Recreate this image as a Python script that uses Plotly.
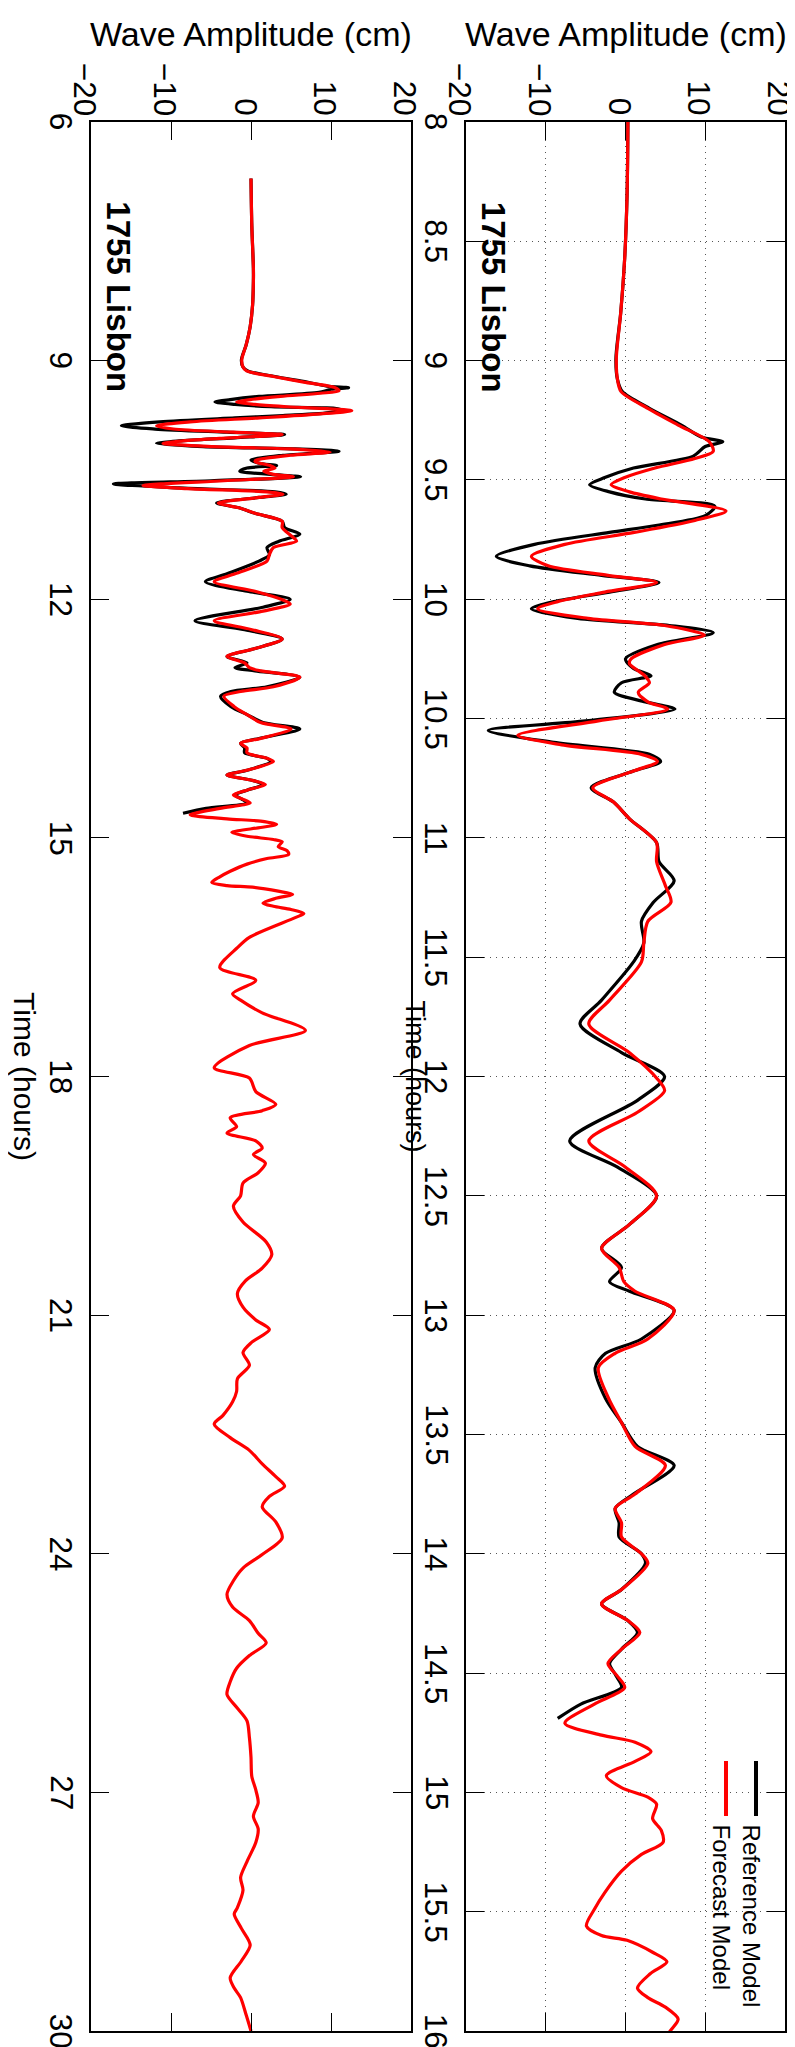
import plotly.graph_objects as go

# ---------------- data ----------------
# Forecast model (red): time (hours), amplitude (cm)
fc_time = [6.71, 7.3, 7.84, 8.0, 8.3, 8.57, 8.8, 8.99, 9.08, 9.13, 9.2, 9.27, 9.34, 9.38, 9.41, 9.45,
           9.49, 9.52, 9.55, 9.58, 9.63, 9.67, 9.72, 9.77, 9.82, 9.86, 9.90, 9.93, 9.97, 10.01, 10.04,
           10.08, 10.11, 10.15, 10.19, 10.25, 10.27, 10.32, 10.35, 10.39, 10.43, 10.46, 10.51, 10.57,
           10.61, 10.65, 10.68, 10.72, 10.79, 10.85, 10.92, 11.02, 11.1, 11.2, 11.27, 11.35, 11.44,
           11.52, 11.68, 11.78, 11.9, 12.01, 12.06, 12.15, 12.27, 12.38, 12.5, 12.62, 12.72, 12.8,
           12.86, 12.9, 12.98, 13.1, 13.16, 13.22, 13.35, 13.45, 13.55, 13.63, 13.75, 13.81, 13.87,
           13.93, 14.0, 14.04, 14.15, 14.21, 14.28, 14.33, 14.40, 14.46, 14.51, 14.56, 14.63, 14.71,
           14.76, 14.79, 14.83, 14.87, 14.93, 14.98, 15.02, 15.05, 15.11, 15.16, 15.21, 15.26, 15.33,
           15.42, 15.49, 15.56, 15.6, 15.62, 15.67, 15.71, 15.76, 15.82, 15.86, 15.9, 15.95, 16.0,
           16.25, 16.38, 16.63, 16.79, 16.96, 17.04, 17.2, 17.42, 17.61, 17.89, 18.02, 18.19, 18.35,
           18.43, 18.52, 18.63, 18.71, 18.81, 18.9, 18.98, 19.09, 19.21, 19.34, 19.5, 19.63, 19.83,
           20.08, 20.24, 20.41, 20.57, 20.73, 20.9, 21.06, 21.18, 21.34, 21.47, 21.63, 21.8, 21.96,
           22.09, 22.26, 22.37, 22.54, 22.7, 22.87, 23.03, 23.15, 23.28, 23.41, 23.6, 23.8, 24.01,
           24.18, 24.34, 24.51, 24.67, 24.84, 25.0, 25.12, 25.28, 25.44, 25.61, 25.77, 25.93, 26.1,
           26.31, 26.56, 26.8, 26.97, 27.13, 27.3, 27.46, 27.63, 27.87, 28.07, 28.23, 28.45, 28.53,
           28.71, 28.92, 29.12, 29.33, 29.46, 29.58, 29.8, 30.0]
fc_amp = [0.0, 0.1, 0.3, 0.3, 0.2, -0.1, -0.6, -1.15, -1.0, -0.55, 2.8, 6.6, 10.5, 11.0, 8.7, 3.7,
          -0.1, -1.8, 0.5, 4.5, 12.6, 8.7, 1.1, -7.6, -11.8, -9.7, -2.2, 3.9, -2.6, -8.5, -11.0,
          -4.7, 4.9, 9.9, 4.9, 0.7, 0.5, 2.4, 3.0, 1.6, 2.8, 5.3, -3.4, -13.5,
          -8.0, 2.0, 4.0, 1.0, -4.1, -1.5, 0.5, 3.9, 3.9, 5.0, 5.7, 2.8, 2.3,
          2.0, -2.0, -4.6, 0.5, 4.0, 4.9, 1.5, -4.6, 0.0, 3.9, 0.5, -3.0, -0.8,
          -0.2, 1.2, 6.1, 2.8, -1.3, -3.4, -2.1, -0.5, 1.2, 5.0, 1.2, -1.3, -0.5,
          -0.5, 2.0, 2.8, -0.5, -3.0, 0.3, 1.8, -0.5, -2.2, -1.1, -0.1, -3.9, -7.6,
          -3.0, 1.2, 3.2, 1.2, -2.4, -0.5, 2.8, 3.9, 3.4, 4.5, 4.7, 2.0, -0.5,
          -2.6, -3.9, -4.9, -3.0, 0.2, 3.4, 5.2, 3.1, 1.5, 2.8, 5.0, 6.6, 5.6,
          -0.2, -1.7, -3.9, 0.6, -2.3, -1.3, 1.4, 6.8, -0.2, -4.6, -0.2, 0.6, 3.1,
          1.4, -2.6, -1.8, -3.0, 0.6, 1.4, 0.3, 1.8, 0.9, -1.0, -1.3, -2.2, -1.0,
          1.9, 2.6, 1.4, -0.7, -1.7, -1.0, 0.6, 2.3, 0.1, -1.0, -0.2, -1.7, -1.8,
          -2.3, -3.5, -4.6, -2.6, -0.2, 1.4, 3.1, 4.2, 2.3, 1.4, 3.1, 3.9, 1.4,
          -1.0, -2.2, -3.0, -2.3, -0.2, 0.9, 1.9, -0.2, -1.8, -2.6, -3.0, -1.8, -0.5,
          -0.2, 0.0, 0.1, 0.6, 0.9, 0.3, 0.9, 0.6, -0.5, -1.3, -1.0, -1.7, -2.1,
          -1.2, -0.1, -1.2, -2.6, -2.1, -1.3, -0.6, 0.0]

# Reference model (black)
ref_time = [6.71, 7.3, 7.84, 8.0, 8.3, 8.57, 8.8, 8.99, 9.08, 9.13, 9.2, 9.27, 9.32, 9.34, 9.36, 9.40,
            9.45, 9.49, 9.52, 9.55, 9.58, 9.61, 9.65, 9.69, 9.72, 9.77, 9.82, 9.86, 9.90, 9.93, 9.97,
            10.01, 10.04, 10.08, 10.11, 10.14, 10.19, 10.25, 10.29, 10.32, 10.35, 10.39, 10.43, 10.46,
            10.51, 10.55, 10.6, 10.65, 10.68, 10.72, 10.79, 10.85, 10.92, 11.02, 11.1, 11.18, 11.27,
            11.35, 11.44, 11.52, 11.68, 11.78, 11.9, 12.0, 12.1, 12.27, 12.38, 12.5, 12.62, 12.72,
            12.8, 12.86, 12.9, 12.98, 13.1, 13.16, 13.22, 13.35, 13.45, 13.55, 13.63, 13.75, 13.81,
            13.87, 13.93, 14.0, 14.04, 14.15, 14.21, 14.28, 14.33, 14.40, 14.46, 14.51, 14.56, 14.63,
            14.69]
ref_amp = [0.0, 0.1, 0.3, 0.3, 0.2, -0.1, -0.6, -1.2, -1.0, -0.4, 3.0, 7.0, 9.5, 12.2, 10.0, 8.5,
           1.0, -2.6, -4.5, -2.0, 2.5, 11.2, 10.0, 4.0, -2.0, -11.4, -16.2, -12.0, -3.0, 4.2, -2.0,
           -9.0, -11.8, -6.0, 5.5, 11.0, 4.0, 0.0, 1.0, 3.2, -0.5, -1.4, 2.5, 6.2,
           -5.0, -17.2, -9.0, 3.0, 4.4, 1.0, -4.3, -1.5, 0.5, 3.9, 4.2, 6.1, 3.5,
           2.0, 2.3, 1.0, -3.0, -5.7, -0.5, 4.9, 1.5, -7.0, -1.0, 3.9, 0.5, -3.0,
           -0.5, -2.0, 0.5, 6.1, 2.0, -2.5, -3.8, -2.5, -0.5, 1.5, 6.1, 1.0, -1.3,
           -0.8, -0.8, 2.0, 2.5, -0.5, -3.0, 0.3, 1.5, -0.5, -2.0, -1.2, -0.5, -5.6,
           -8.5]

amp_ticks = [-20, -10, 0, 10, 20]
time_ticks_full = [6, 9, 12, 15, 18, 21, 24, 27, 30]
time_ticks_zoom = [8, 8.5, 9, 9.5, 10, 10.5, 11, 11.5, 12, 12.5, 13, 13.5, 14, 14.5, 15, 15.5, 16]
series_names = ["Reference Model", "Forecast Model"]
series_colors = ["#000000", "#ff0000"]
station = "1755 Lisbon"

# ---------------- figure ----------------
fig = go.Figure()
LW = 3.2
for xa, ya in [("x", "y"), ("x2", "y2")]:
    fig.add_trace(go.Scatter(x=ref_amp, y=ref_time, mode="lines", xaxis=xa, yaxis=ya,
                             line=dict(color=series_colors[0], width=LW, shape="spline", smoothing=0.8),
                             showlegend=False, hoverinfo="skip"))
    fig.add_trace(go.Scatter(x=fc_amp, y=fc_time, mode="lines", xaxis=xa, yaxis=ya,
                             line=dict(color=series_colors[1], width=LW, shape="spline", smoothing=0.8),
                             showlegend=False, hoverinfo="skip"))

FONT = "Liberation Sans, Arial, sans-serif"
TICKSIZE = 31.5

common_x = dict(range=[-20, 20], tickvals=amp_ticks, side="top", ticks="inside",
                ticklen=18, tickcolor="black", mirror="ticks", showline=True, linecolor="black",
                linewidth=1.5, zeroline=False, showticklabels=False, fixedrange=True)
common_y = dict(ticks="inside", ticklen=18, tickcolor="black", mirror="ticks", showline=True,
                linecolor="black", linewidth=1.5, zeroline=False, showticklabels=False,
                fixedrange=True)

W, H = 795, 2047
L, R, T, B = 83, 18, 114, 24
pw = W - L - R
ph = H - T - B
def px(X):
    return (X - L) / pw
def py(Y):
    return (H - B - Y) / ph

GRID = dict(showgrid=True, gridcolor="#555555", griddash="1px,5px", gridwidth=1)
fig.update_layout(
    width=W, height=H,
    margin=dict(l=L, r=R, t=T, b=B, autoexpand=False),
    paper_bgcolor="white", plot_bgcolor="white",
    showlegend=False,
    xaxis=dict(domain=[0, px(403)], anchor="y", showgrid=False, **common_x),
    yaxis=dict(domain=[0, 1], anchor="x", range=[30, 6], tickvals=time_ticks_full,
               showgrid=False, **common_y),
    xaxis2=dict(domain=[px(458), 1], anchor="y2", **GRID, **common_x),
    yaxis2=dict(domain=[0, 1], anchor="x2", range=[16, 8], tickvals=time_ticks_zoom,
                **GRID, **common_y),
)

def fmt(v):
    s = "%g" % v
    return s.replace("-", "\u2212")

def rot_shift(fs):
    # correction so the ink (not the text box) of 90-degree text sits where wanted
    return -0.17 * fs

ann = []
tickfont = dict(family=FONT, size=TICKSIZE, color="black")
# rotated tick labels placed on the axes' own scales
for xr in ["x", "x2"]:
    for v in amp_ticks:
        ann.append(dict(text=fmt(v), x=v, xref=xr, xshift=rot_shift(TICKSIZE),
                        y=1, yref="paper", yshift=4,
                        xanchor="center", yanchor="bottom", textangle=90, showarrow=False,
                        font=tickfont))
for yr, left_px, vals in [("y", 83, time_ticks_full), ("y2", 458, time_ticks_zoom)]:
    for v in vals:
        ann.append(dict(text=fmt(v), x=px(left_px), xref="paper",
                        xshift=-24.5 + rot_shift(TICKSIZE), y=v, yref=yr,
                        xanchor="center", yanchor="middle", textangle=90, showarrow=False,
                        font=tickfont))

for cx in [243, 617.5]:
    ann.append(dict(text="Wave Amplitude (cm)", x=px(cx), y=py(26), xref="paper", yref="paper",
                    showarrow=False, font=dict(family=FONT, size=34, color="black"),
                    xanchor="center", yanchor="middle"))
for cx, fs in [(22, 30), (412, 27)]:
    ann.append(dict(text="Time (hours)", x=px(cx), xshift=rot_shift(fs), y=py(1069),
                    xref="paper", yref="paper",
                    showarrow=False, textangle=90, font=dict(family=FONT, size=fs, color="black"),
                    xanchor="center", yanchor="middle"))
for cx in [114, 489.5]:
    ann.append(dict(text="<b>%s</b>" % station, x=px(cx), xshift=rot_shift(33) * 0.6, y=py(289),
                    xref="paper", yref="paper",
                    showarrow=False, textangle=90, font=dict(family=FONT, size=33, color="black"),
                    xanchor="center", yanchor="middle"))
# legend (rotated)
leg_x = [748, 718]
for name, col, lx in zip(series_names, series_colors, leg_x):
    fig.add_shape(type="line", xref="paper", yref="paper", x0=px(lx), x1=px(lx),
                  y0=py(1753), y1=py(1808), line=dict(color=col, width=4))
    ann.append(dict(text=name, x=px(lx), xshift=rot_shift(24), y=py(1815),
                    xref="paper", yref="paper",
                    showarrow=False, textangle=90, font=dict(family=FONT, size=24, color="black"),
                    xanchor="center", yanchor="top"))
fig.update_layout(annotations=ann)

fig.write_html("out.html")
